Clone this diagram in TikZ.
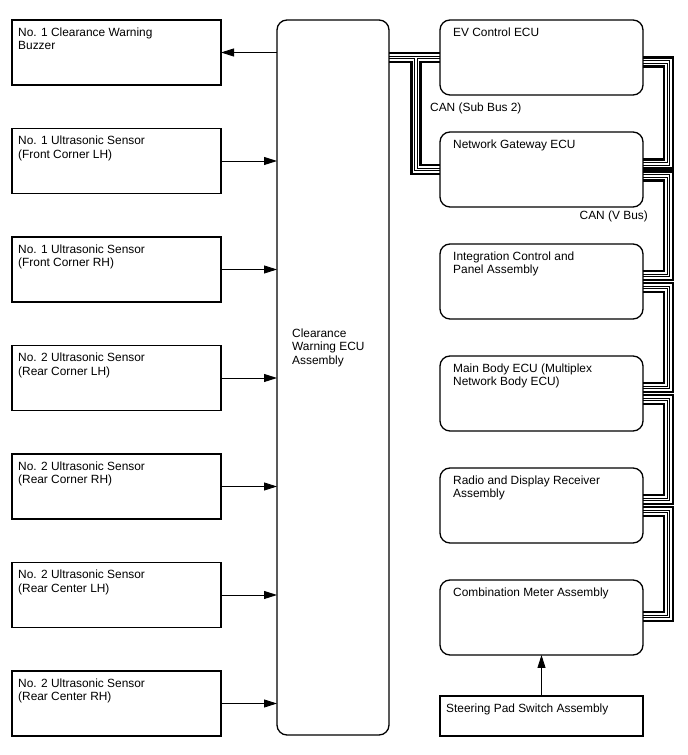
\documentclass[tikz,border=0pt]{standalone}
\usepackage{fontspec}
\setmainfont{Liberation Sans}
\usetikzlibrary{positioning, arrows.meta, backgrounds}

\begin{document}
\begin{tikzpicture}[
        x=1pt, y=1pt,
        node distance=43.5pt,
        every node/.style={font=\fontsize{11.9}{13.5}\selectfont},
        % square boxes, text in the top left corner
        sbox/.style={draw, line width=1.3pt, outer sep=0pt, inner sep=0pt, minimum width=209pt, minimum height=65pt,
            label={[anchor=north west, align=left, inner xsep=6pt, inner ysep=7.5pt]north west:#1}},
        % rounded ECU boxes
        ebox/.style={draw, line width=1.3pt, outer sep=0pt, inner sep=0pt, rounded corners=10pt, minimum width=203pt, minimum height=75pt,
            label={[anchor=north west, align=left, inner xsep=13pt, inner ysep=7.5pt]north west:#1}},
        arrow/.style={-{Triangle[length=13pt, width=8pt]}, line width=0.9pt},
        % CAN line: thick outer lines with a double line inside
        canbus/.style={draw=black, line width=11.2pt, postaction={draw=white, line width=6.4pt},
            postaction={draw=black, line width=3.6pt}, postaction={draw=white, line width=1.5pt}},
        buslabel/.style={inner sep=0pt}
    ]
    \useasboundingbox (0,0) rectangle (688,755);

    % --- left column: buzzer and sensors ---
    \node[sbox={No. 1 Clearance Warning\\Buzzer}] (buz) at (116.5,702.5) {};
    \node[sbox={No. 1 Ultrasonic Sensor\\(Front Corner LH)}, below=of buz] (fcl) {};
    \node[sbox={No. 1 Ultrasonic Sensor\\(Front Corner RH)}, below=of fcl] (fcr) {};
    \node[sbox={No. 2 Ultrasonic Sensor\\(Rear Corner LH)}, below=of fcr] (rcl) {};
    \node[sbox={No. 2 Ultrasonic Sensor\\(Rear Corner RH)}, below=of rcl] (rcr) {};
    \node[sbox={No. 2 Ultrasonic Sensor\\(Rear Center LH)}, below=of rcr] (rml) {};
    \node[sbox={No. 2 Ultrasonic Sensor\\(Rear Center RH)}, below=of rml] (rmr) {};

    % --- clearance warning ECU ---
    \node[draw, line width=1.3pt, outer sep=0pt, rounded corners=10pt, minimum width=112pt, minimum height=715pt] (cwe) at (333,377.5) {};
    \node[align=left, anchor=west, inner sep=0pt] (cwetxt) at ([xshift=15pt, yshift=30pt]cwe.west) {Clearance\\Warning ECU\\Assembly};

    % --- right column: ECUs on the CAN ---
    \node[ebox={EV Control ECU}] (ev) at (541.5,697.5) {};
    \node[ebox={Network Gateway ECU}, below=37pt of ev] (ngw) {};
    \node[ebox={Integration Control and\\Panel Assembly}, below=37pt of ngw] (icp) {};
    \node[ebox={Main Body ECU (Multiplex\\Network Body ECU)}, below=37pt of icp] (mbe) {};
    \node[ebox={Radio and Display Receiver\\Assembly}, below=37pt of mbe] (rdr) {};
    \node[ebox={Combination Meter Assembly}, below=37pt of rdr] (cmb) {};
    \node[sbox={Steering Pad Switch Assembly}, minimum width=203pt, minimum height=40pt, below=41pt of cmb] (sps) {};

    % --- signal arrows ---
    \draw[arrow] (cwe.west |- buz.east) -- (buz.east);
    \foreach \s in {fcl, fcr, rcl, rcr, rml, rmr}
        \draw[arrow] (\s.east) -- (cwe.west |- \s.east);
    \draw[arrow] (sps.north) -- (cmb.south);

    % --- CAN lines ---
    \begin{scope}[on background layer]
        \coordinate (sbt) at (cwe.east |- ev.west);
        \coordinate (sb) at ([xshift=27pt]sbt);
        \draw[canbus] (sbt) -- (ev.west) (sb) |- (ngw.west);

        \coordinate (vx) at ([xshift=25.5pt]ev.east);
        \foreach \ua/\ya/\ub/\yb in {ev/-4.5/ngw/5.5, ngw/-6.5/icp/6, icp/-6/mbe/6, mbe/-6/rdr/6, rdr/-6/cmb/1} {
            \coordinate (pa) at ([yshift=\ya pt]\ua.east);
            \coordinate (pb) at ([yshift=\yb pt]\ub.east);
            \draw[canbus] (pa) -- (pa -| vx) -- (pb -| vx) -- (pb);
        }
    \end{scope}

    % bus names
    \node[buslabel, anchor=west] (subcan) at ([xshift=-10pt, yshift=-13pt]ev.south west) {CAN (Sub Bus 2)};
    \node[buslabel, anchor=east] (vcan) at ([xshift=5pt, yshift=-9pt]ngw.south east) {CAN (V Bus)};

\end{tikzpicture}
\end{document}
